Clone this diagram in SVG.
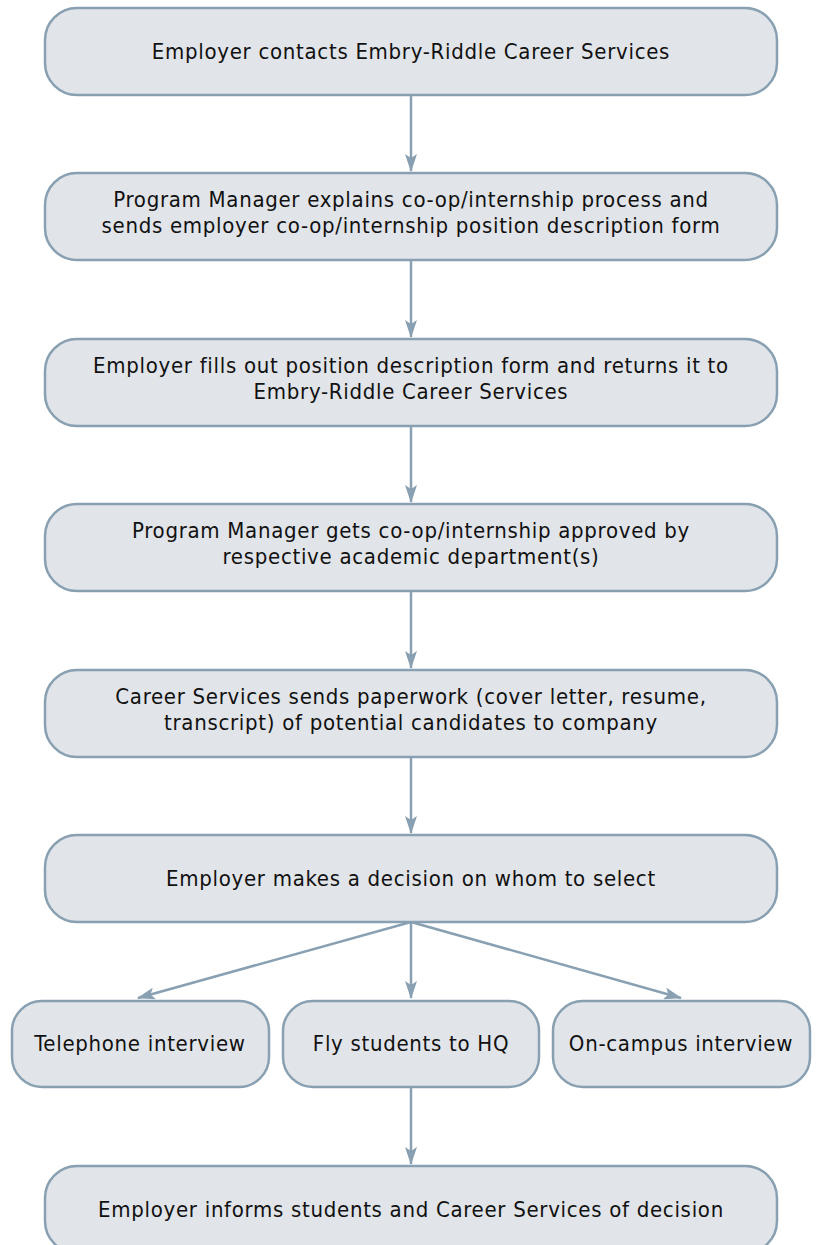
<svg xmlns="http://www.w3.org/2000/svg" width="817" height="1245" viewBox="0 0 817 1245">
<style>
.box{fill:#e1e5e9;stroke:#88a0b2;stroke-width:2.5}
.t{font-family:"DejaVu Sans Condensed","DejaVu Sans","Liberation Sans",sans-serif;font-stretch:condensed;font-size:22px;letter-spacing:0.7px;fill:#111;text-anchor:middle}
.c{stroke:#88a0b2;stroke-width:2.5;fill:none}
</style>
<defs>
<marker id="ah" viewBox="0 0 18 12" refX="17" refY="6" markerWidth="18" markerHeight="12" markerUnits="userSpaceOnUse" orient="auto">
<path d="M0,0 L18,6 L0,12 L4,6 Z" fill="#88a0b2"/>
</marker>
</defs>
<rect width="817" height="1245" fill="#fff"/>
<g id="connectors">
<line class="c" x1="411" y1="95" x2="411" y2="171" marker-end="url(#ah)"/>
<line class="c" x1="411" y1="260" x2="411" y2="337" marker-end="url(#ah)"/>
<line class="c" x1="411" y1="426" x2="411" y2="502" marker-end="url(#ah)"/>
<line class="c" x1="411" y1="591" x2="411" y2="668" marker-end="url(#ah)"/>
<line class="c" x1="411" y1="757" x2="411" y2="833" marker-end="url(#ah)"/>
<line class="c" x1="411" y1="922" x2="138" y2="998" marker-end="url(#ah)"/>
<line class="c" x1="411" y1="922" x2="411" y2="998" marker-end="url(#ah)"/>
<line class="c" x1="411" y1="922" x2="681" y2="998" marker-end="url(#ah)"/>
<line class="c" x1="411" y1="1087" x2="411" y2="1164" marker-end="url(#ah)"/>
</g>
<g id="n1"><rect class="box" x="45" y="8" width="732" height="87" rx="32"/><text class="t" x="411" y="59">Employer contacts Embry-Riddle Career Services</text></g>
<g id="n2"><rect class="box" x="45" y="173" width="732" height="87" rx="32"/><text class="t" x="411" y="207">Program Manager explains co-op/internship process and</text><text class="t" x="411" y="233">sends employer co-op/internship position description form</text></g>
<g id="n3"><rect class="box" x="45" y="339" width="732" height="87" rx="32"/><text class="t" x="411" y="373">Employer fills out position description form and returns it to</text><text class="t" x="411" y="399">Embry-Riddle Career Services</text></g>
<g id="n4"><rect class="box" x="45" y="504" width="732" height="87" rx="32"/><text class="t" x="411" y="538">Program Manager gets co-op/internship approved by</text><text class="t" x="411" y="564">respective academic department(s)</text></g>
<g id="n5"><rect class="box" x="45" y="670" width="732" height="87" rx="32"/><text class="t" x="411" y="704">Career Services sends paperwork (cover letter, resume,</text><text class="t" x="411" y="730">transcript) of potential candidates to company</text></g>
<g id="n6"><rect class="box" x="45" y="835" width="732" height="87" rx="32"/><text class="t" x="411" y="886">Employer makes a decision on whom to select</text></g>
<g id="n7"><rect class="box" x="12" y="1001" width="257" height="86" rx="30"/><text class="t" x="140" y="1051">Telephone interview</text></g>
<g id="n8"><rect class="box" x="283" y="1001" width="256" height="86" rx="30"/><text class="t" x="411" y="1051">Fly students to HQ</text></g>
<g id="n9"><rect class="box" x="553" y="1001" width="257" height="86" rx="30"/><text class="t" x="681" y="1051">On-campus interview</text></g>
<g id="n10"><rect class="box" x="45" y="1166" width="732" height="87" rx="32"/><text class="t" x="411" y="1217">Employer informs students and Career Services of decision</text></g>
</svg>
